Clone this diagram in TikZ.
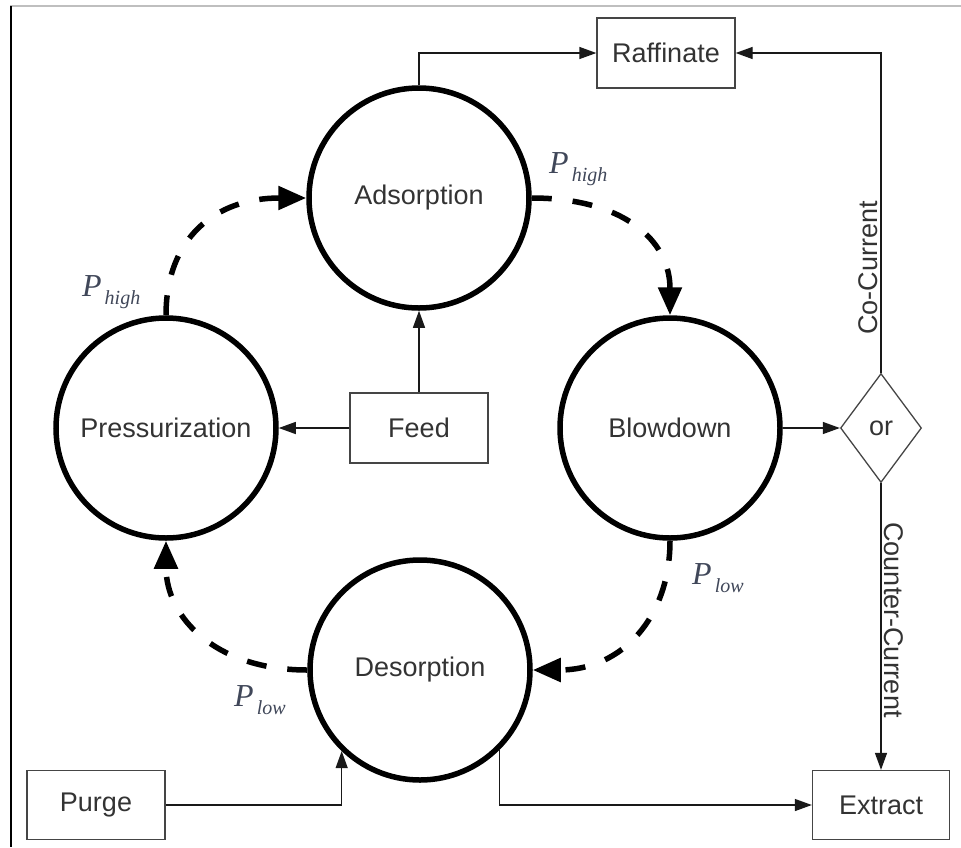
\documentclass[tikz,border=0pt]{standalone}
\usepackage{fontspec}
\setmainfont{Liberation Sans}
\newfontfamily\pserif{Liberation Serif}
\usetikzlibrary{arrows.meta,shapes.geometric}
\definecolor{txt}{rgb}{0.2,0.2,0.2}
\definecolor{boxline}{rgb}{0.27,0.27,0.27}
\definecolor{plab}{rgb}{0.25,0.28,0.35}
\newcommand\Plab[1]{{\pserif\itshape\fontsize{32}{32}\selectfont P}\kern3pt\raisebox{-8pt}{\pserif\itshape\fontsize{20}{20}\selectfont #1}}
\begin{document}
\begin{tikzpicture}[x=1pt,y=-1pt,
  bigtext/.style={font=\fontsize{27}{32}\selectfont, text=txt},
  stage/.style={circle, draw=black, line width=5.5pt, minimum size=220pt, inner sep=0pt, bigtext},
  box/.style={rectangle, draw=boxline, line width=1.3pt, minimum width=138pt, minimum height=70pt, inner sep=0pt, bigtext},
  flow/.style={draw=black!90, line width=1.3pt, -{Triangle[length=17pt,width=12pt]}},
  cyc/.style={draw=black, line width=5.5pt, dash pattern=on 20pt off 21pt, -{Triangle[length=28pt,width=23pt]}},
  plabel/.style={anchor=base west, inner sep=0pt, text=plab}
]
\useasboundingbox (0,0) rectangle (961,847);
% frame lines
\draw[black!25, line width=1.5pt] (10,6) -- (961,6);
\draw[black, line width=2pt] (10.5,6) -- (10.5,847);

% stages
\node[stage] (ads) at (419,198) {Adsorption};
\node[stage] (pre) at (166,428) {Pressurization};
\node[stage] (blo) at (670,428) {Blowdown};
\node[stage] (des) at (420,670) {Desorption};

% boxes
\node[box] (raf) at (666,53) {Raffinate};
\node[box] (feed) at (419,428) {Feed};
\node[box, minimum width=138pt, minimum height=69pt] (purge) at (96,805) {Purge};
\node[box, minimum width=137pt, minimum height=69pt] (ext) at (881,805) {Extract};
\node[diamond, draw=boxline, line width=1.3pt, minimum width=81pt, minimum height=109pt, inner sep=0pt, bigtext] (or) at (881,428) {or};

% thin flows
\draw[flow] (feed) -- (ads);
\draw[flow] (feed) -- (pre);
\draw[flow] (blo) -- (or);
\draw[flow] (ads.north) |- (raf.west);
\draw[flow] (or.north) |- (raf.east);
\draw[flow] (or) -- (ext);
\draw[flow] (purge.east) -| (des.-134);
\draw[flow] (des.-45) |- (ext.west);

% cycle (dashed)
\draw[cyc] (pre.north) .. controls +(0,-77) and +(-91,0) .. (ads.west);
\draw[cyc] (ads.east) .. controls +(90,0) and +(0,-76) .. (blo.north);
\draw[cyc] (blo.south) .. controls +(0,76) and +(90,0) .. (des.east);
\draw[cyc] (des.west) .. controls +(-91,0) and +(0,77) .. (pre.south);

% pressure labels
\node[plabel] (ph1) at (549,173) {\Plab{high}};
\node[plabel] (ph2) at (82,296) {\Plab{high}};
\node[plabel] (pl1) at (692,584) {\Plab{low}};
\node[plabel] (pl2) at (234,706) {\Plab{low}};

% branch labels
\node[bigtext, rotate=90, inner sep=0pt] (co) at (868,268) {Co-Current};
\node[bigtext, rotate=-90, inner sep=0pt] (counter) at (894,620) {Counter-Current};
\end{tikzpicture}
\end{document}
